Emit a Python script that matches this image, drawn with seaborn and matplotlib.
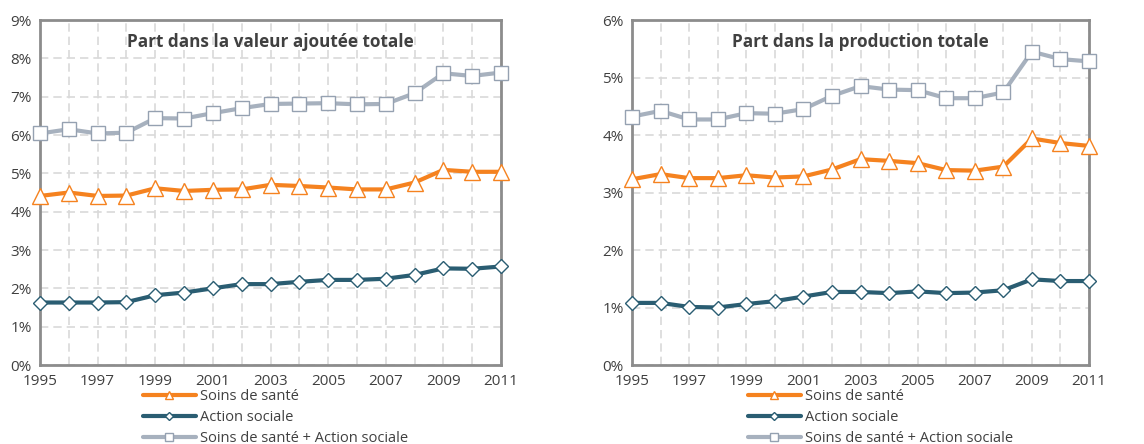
import matplotlib
matplotlib.use("Agg")
import matplotlib.pyplot as plt
import seaborn as sns

sns.set_theme(style="white")
plt.rcParams["font.family"] = ["Open Sans", "DejaVu Sans"]

# data (values in %)
years = list(range(1995, 2012))

va_sante = [4.41, 4.50, 4.41, 4.42, 4.61, 4.54, 4.57, 4.58, 4.70, 4.67, 4.63, 4.58, 4.58, 4.76, 5.09, 5.04, 5.04]
va_social = [1.63, 1.63, 1.63, 1.64, 1.82, 1.89, 2.00, 2.11, 2.11, 2.17, 2.22, 2.22, 2.25, 2.35, 2.52, 2.51, 2.57]
va_total = [6.04, 6.15, 6.04, 6.06, 6.44, 6.43, 6.57, 6.70, 6.81, 6.82, 6.83, 6.80, 6.81, 7.09, 7.61, 7.54, 7.63]

prod_sante = [3.23, 3.32, 3.25, 3.25, 3.30, 3.26, 3.28, 3.40, 3.58, 3.55, 3.51, 3.39, 3.38, 3.45, 3.94, 3.86, 3.81]
prod_social = [1.08, 1.08, 1.01, 1.00, 1.06, 1.11, 1.19, 1.27, 1.27, 1.25, 1.28, 1.25, 1.26, 1.30, 1.49, 1.46, 1.46]
prod_total = [4.32, 4.42, 4.27, 4.27, 4.38, 4.37, 4.45, 4.68, 4.85, 4.79, 4.78, 4.64, 4.64, 4.74, 5.45, 5.32, 5.28]

labels = ["Soins de santé", "Action sociale", "Soins de santé + Action sociale"]
titles = ["Part dans la valeur ajoutée totale", "Part dans la production totale"]

ORANGE = "#f5821f"
TEAL = "#2a5d72"
GRAY = "#a7b1be"
GRAY_EDGE = "#95a1b1"
TEXT = "#404040"

styles = [
    dict(color=ORANGE, marker="^", markersize=11, markeredgecolor=ORANGE),
    dict(color=TEAL, marker="D", markersize=7.5, markeredgecolor=TEAL),
    dict(color=GRAY, marker="s", markersize=9.5, markeredgecolor=GRAY_EDGE),
]

fig = plt.figure(figsize=(11.44, 4.44), dpi=100)
axes = [fig.add_axes([40 / 1144, 79 / 444, 461 / 1144, 345 / 444]),
        fig.add_axes([632 / 1144, 79 / 444, 457 / 1144, 345 / 444])]

panels = [
    (va_sante, va_social, va_total, 9),
    (prod_sante, prod_social, prod_total, 6),
]
legend_x = [143 / 1144, 748 / 1144]

for i, (ax, (s1, s2, s3, ymax)) in enumerate(zip(axes, panels)):
    for vals, lab, st in zip([s1, s2, s3], labels, styles):
        sns.lineplot(x=years, y=vals, ax=ax, label=lab, linewidth=3,
                     markerfacecolor="white", markeredgewidth=1.0,
                     clip_on=False, zorder=3, **st)
    ax.set_xlim(1995, 2011)
    ax.set_ylim(0, ymax)
    ax.set_xticks(years)
    ax.set_xticklabels([str(y) if y % 2 == 1 else "" for y in years])
    ax.set_yticks(range(0, ymax + 1))
    ax.set_yticklabels([f"{v}%" for v in range(0, ymax + 1)])
    ax.grid(True, color="#d9d9d9", linestyle=(0, (5, 3)), linewidth=1.2)
    for sp in ax.spines.values():
        sp.set_color("#8c8c8c")
        sp.set_linewidth(2)
    ax.tick_params(axis="both", colors="#8c8c8c", labelcolor=TEXT,
                   labelsize=11, length=4, width=1.2, direction="out")
    ax.tick_params(axis="x", pad=2.5)
    ax.tick_params(axis="y", pad=2)
    ax.text(0.5, 0.935, titles[i], transform=ax.transAxes, ha="center",
            va="center", fontsize=12.3, fontweight="bold", color=TEXT)
    ax.set_xlabel("")
    ax.set_ylabel("")
    leg = ax.legend(loc="upper left", bbox_to_anchor=(legend_x[i], 55 / 444),
                    bbox_transform=fig.transFigure, frameon=False,
                    fontsize=10.5, handlelength=3.6, handletextpad=0.3,
                    labelspacing=0.4, borderpad=0, borderaxespad=0,
                    markerscale=0.55)
    for t in leg.get_texts():
        t.set_color(TEXT)

plt.savefig("out.png", dpi=100)
